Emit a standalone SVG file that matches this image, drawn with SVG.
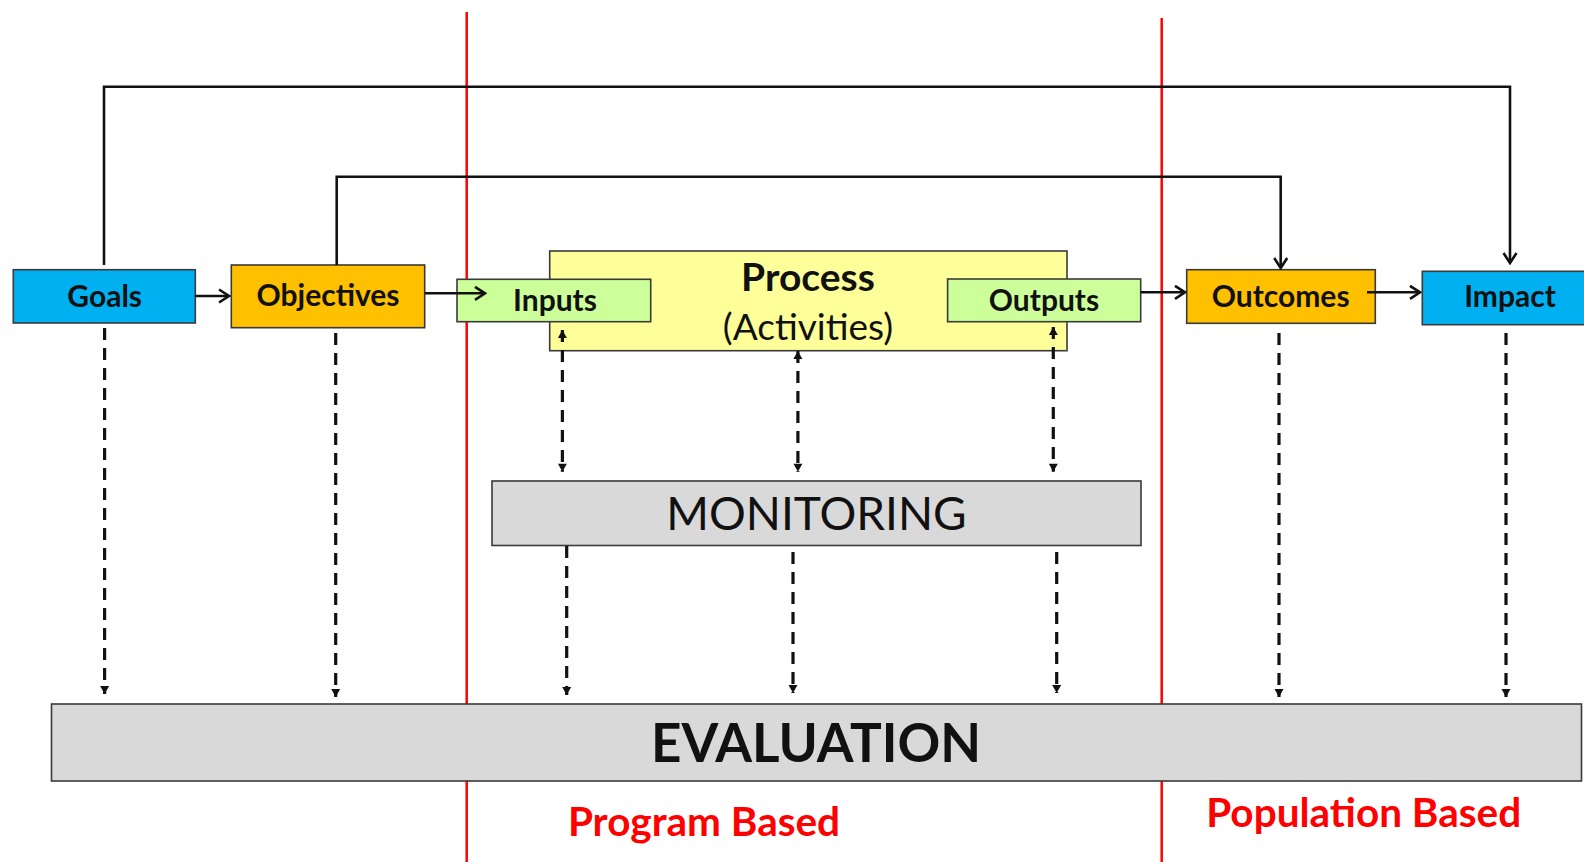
<svg xmlns="http://www.w3.org/2000/svg" width="1584" height="862" viewBox="0 0 1584 862">
<style>
.box{stroke:#3a3a3a;stroke-width:1.6}
.lbl{font-family:Lato,"Liberation Sans",sans-serif;font-weight:bold;font-size:30px;fill:#111;text-anchor:middle}
.big{font-family:Lato,"Liberation Sans",sans-serif;fill:#111;text-anchor:middle}
.red{font-family:Lato,"Liberation Sans",sans-serif;font-weight:bold;font-size:40.5px;fill:#ff0000;text-anchor:middle}
.solid{fill:none;stroke:#111;stroke-width:2.6}
.dash{fill:none;stroke:#111;stroke-width:3.2;stroke-dasharray:12 8}
.redline{stroke:#ff0000;stroke-width:2.5}
</style>
<defs>
<marker id="chev" markerUnits="userSpaceOnUse" viewBox="-12 -8 14 16" markerWidth="14" markerHeight="16" refX="0" refY="0" orient="auto">
<path d="M-10,-6.5 L0,0 L-10,6.5" fill="none" stroke="#111" stroke-width="2.6"/>
</marker>
<marker id="tri" markerUnits="userSpaceOnUse" viewBox="-10 -6 11 12" markerWidth="11" markerHeight="12" refX="0" refY="0" orient="auto-start-reverse">
<path d="M-8,-4.5 L0,0 L-8,4.5 Z" fill="#111"/>
</marker>
</defs>
<rect width="1584" height="862" fill="#ffffff"/>

<g id="dividers">
<line class="redline" x1="466.7" y1="12" x2="466.7" y2="862"/>
<line class="redline" x1="1161.7" y1="18" x2="1161.7" y2="862"/>
</g>

<g id="evaluation">
<rect class="box" x="51.5" y="704" width="1530" height="77" fill="#d9d9d9"/>
<text class="big" x="816" y="762" font-size="53" font-weight="bold">EVALUATION</text>
</g>
<g id="monitoring">
<rect class="box" x="492" y="481" width="649" height="64.5" fill="#d9d9d9"/>
<text class="big" x="816.5" y="530" font-size="46">MONITORING</text>
</g>
<g id="goals">
<rect class="box" x="13.3" y="269.7" width="182" height="53.3" fill="#00b0f0"/>
<text class="lbl" x="104.7" y="307">Goals</text>
</g>
<g id="objectives">
<rect class="box" x="231.3" y="265" width="193.4" height="62.7" fill="#ffc000"/>
<text class="lbl" x="328" y="306">Objectives</text>
</g>
<g id="process">
<rect class="box" x="549.7" y="251" width="517.3" height="99.7" fill="#ffff99"/>
<text class="big" x="808" y="291" font-size="39" font-weight="bold">Process</text>
<text class="big" x="808" y="340" font-size="37">(Activities)</text>
</g>
<g id="inputs">
<rect class="box" x="457" y="279.3" width="193.7" height="42.4" fill="#ccff99"/>
<text class="lbl" x="555" y="311" font-weight="normal">Inputs</text>
</g>
<g id="outputs">
<rect class="box" x="947.6" y="279" width="193.1" height="42.7" fill="#ccff99"/>
<text class="lbl" x="1044" y="311" font-weight="normal">Outputs</text>
</g>
<g id="outcomes">
<rect class="box" x="1186.7" y="269.7" width="188.6" height="53.6" fill="#ffc000"/>
<text class="lbl" x="1280.7" y="307">Outcomes</text>
</g>
<g id="impact">
<rect class="box" x="1422.3" y="271.3" width="170" height="53.4" fill="#00b0f0"/>
<text class="lbl" x="1510" y="307" font-weight="normal">Impact</text>
</g>

<g id="connectors">
<path class="solid" d="M195.3,296 H229" marker-end="url(#chev)"/>
<path class="solid" d="M424.7,293.3 H485" marker-end="url(#chev)"/>
<path class="solid" d="M1140.7,292.3 H1185" marker-end="url(#chev)"/>
<path class="solid" d="M1367,292.3 H1420" marker-end="url(#chev)"/>
<path class="solid" d="M104,265 V86.7 H1510 V263" marker-end="url(#chev)"/>
<path class="solid" d="M336.7,265 V176.7 H1280.7 V268" marker-end="url(#chev)"/>

<path class="dash" d="M104.6,328 V694" marker-end="url(#tri)"/>
<path class="dash" d="M335.7,333 V697" marker-end="url(#tri)"/>
<path class="dash" d="M1279,333 V697" marker-end="url(#tri)"/>
<path class="dash" d="M1506,333 V697" marker-end="url(#tri)"/>

<path class="dash" d="M562.4,330 V471.7" marker-start="url(#tri)" marker-end="url(#tri)"/>
<path class="dash" d="M797.9,351 V471.7" marker-start="url(#tri)" marker-end="url(#tri)"/>
<path class="dash" d="M1053.3,327 V471.7" marker-start="url(#tri)" marker-end="url(#tri)"/>

<path class="dash" d="M566.7,546 V695" marker-end="url(#tri)"/>
<path class="dash" d="M793,552 V693" marker-end="url(#tri)"/>
<path class="dash" d="M1056.7,552 V693" marker-end="url(#tri)"/>
</g>

<g id="labels">
<text class="red" x="704" y="836">Program Based</text>
<text class="red" x="1363.7" y="827">Population Based</text>
</g>
</svg>
